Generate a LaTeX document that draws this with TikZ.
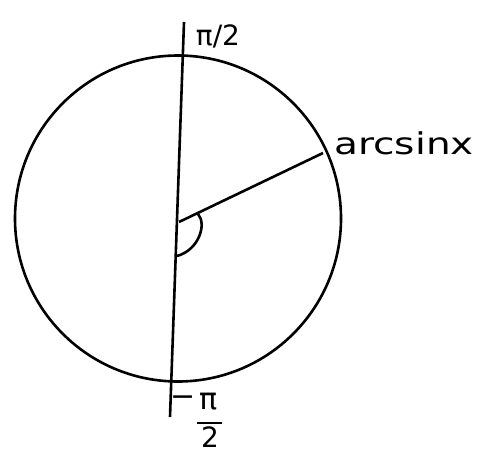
\documentclass[tikz,border=0pt]{standalone}
\usepackage{fontspec}
\setmainfont{DejaVu Sans}
\begin{document}
\begin{tikzpicture}[x=1pt,y=-1pt, line width=2.6pt,
  lab/.style={inner sep=0pt, font=\fontsize{28}{30}\selectfont},
  biglab/.style={inner sep=0pt, font=\fontsize{30}{32}\selectfont}]
\useasboundingbox (0,0) rectangle (479,453);
\coordinate (C) at (178,218.5);
\coordinate (O) at (179,222);
\coordinate (T) at (184,22);
\coordinate (B) at (170,417);
\coordinate (P) at (323,153);
\coordinate (A1) at (198,214);
\coordinate (A2) at (177,256);
\draw (C) circle[radius=163pt];
\draw (T) -- (B);
\draw (O) -- (P);
\draw (A1) .. controls (207,224) and (199,250) .. (A2);
\node[lab] (top) at (218,36) {π/2};
\node[biglab, anchor=west] (arc) at (333,143) {\scalebox{1.3}[1]{arcsinx}};
\node[biglab] (minus) at (183,401) {−};
\node[biglab] (pinum) at (209,402) {π};
\node[lab] (two) at (210,437) {2};
\coordinate (barL) at (197,423);
\coordinate (barR) at (222,423);
\draw (barL) -- (barR);
\end{tikzpicture}
\end{document}
